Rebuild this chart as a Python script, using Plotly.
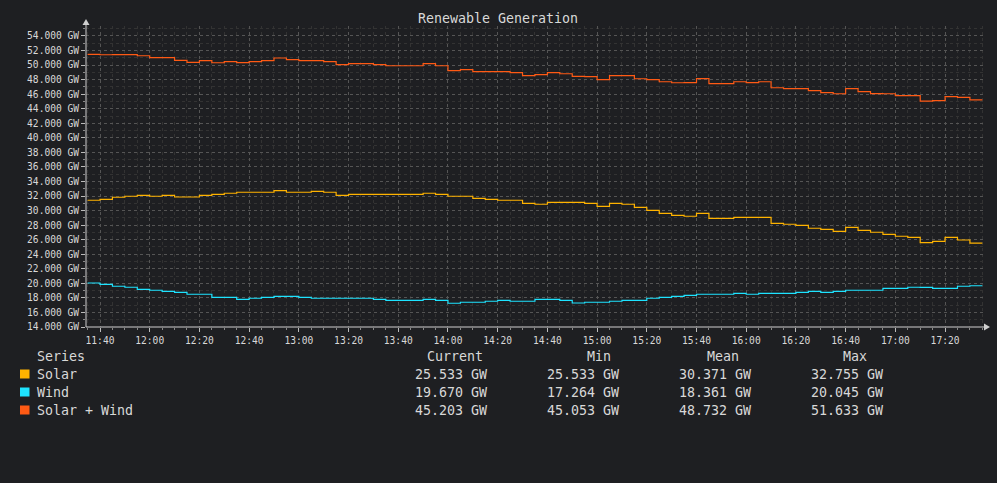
import pandas as pd
import plotly.graph_objects as go

# ---------------- data ----------------
start_time = "2024-01-01 11:35:00"
step = "5min"

solar = [31.42, 31.55, 31.83, 31.97, 32.10, 31.97, 32.10, 31.87, 31.87, 32.10,
         32.24, 32.38, 32.52, 32.52, 32.52, 32.755, 32.52, 32.52, 32.65, 32.52,
         32.10, 32.24, 32.24, 32.24, 32.24, 32.24, 32.24, 32.38, 32.24, 31.97,
         31.97, 31.69, 31.55, 31.42, 31.42, 31.00, 30.87, 31.14, 31.14, 31.14,
         31.00, 30.59, 31.00, 30.87, 30.45, 30.04, 29.63, 29.35, 29.22, 29.63,
         28.94, 28.94, 29.08, 29.08, 29.08, 28.25, 28.12, 27.98, 27.57, 27.43,
         27.15, 27.70, 27.29, 27.02, 26.74, 26.47, 26.33, 25.60, 25.78, 26.33,
         25.96, 25.533]

wind = [20.045, 19.87, 19.60, 19.46, 19.18, 19.05, 18.91, 18.77, 18.50, 18.50,
        18.08, 18.08, 17.81, 17.95, 18.08, 18.22, 18.22, 18.08, 17.95, 17.95,
        17.95, 17.95, 17.95, 17.81, 17.67, 17.67, 17.67, 17.81, 17.67, 17.264,
        17.40, 17.40, 17.54, 17.67, 17.54, 17.54, 17.81, 17.81, 17.67, 17.30,
        17.40, 17.40, 17.54, 17.67, 17.67, 17.95, 18.08, 18.22, 18.36, 18.50,
        18.50, 18.50, 18.63, 18.50, 18.63, 18.63, 18.63, 18.77, 18.91, 18.77,
        18.91, 19.05, 19.05, 19.05, 19.32, 19.32, 19.46, 19.45, 19.32, 19.32,
        19.60, 19.67]

series_names = ["Solar", "Wind", "Solar + Wind"]
series_colors = ["#FFB300", "#1EE3FF", "#FF5A14"]

legend_headers = ["Current", "Min", "Mean", "Max"]
legend_values = [
    ["25.533 GW", "25.533 GW", "30.371 GW", "32.755 GW"],
    ["19.670 GW", "17.264 GW", "18.361 GW", "20.045 GW"],
    ["45.203 GW", "45.053 GW", "48.732 GW", "51.633 GW"],
]

y_tick_values = list(range(14, 56, 2))
y_tick_labels = [f"{v:.3f} GW" for v in y_tick_values]

title_text = "Renewable Generation"

# ---------------- build ----------------
times = list(pd.date_range(start_time, periods=len(solar) + 1, freq=step))
total = [round(s + w, 3) for s, w in zip(solar, wind)]


def ext(vals):
    return list(vals) + [vals[-1]]


W, H = 997, 483
L, R, T, B = 86, 984, 26, 327
BG = "#1e1f22"
FG = "#d8d8d8"
MONO = "DejaVu Sans Mono"


def px(x):
    return (x - L) / (R - L)


def py(y):
    return (B - y) / (B - T)


fig = go.Figure()
for name, vals, col in zip(series_names, [solar, wind, total], series_colors):
    fig.add_trace(go.Scatter(x=times, y=ext(vals), mode="lines", name=name,
                             line=dict(color=col, width=1.2, shape="hv"),
                             showlegend=False, hoverinfo="skip"))

grid_major = "#555555"
grid_minor = "#333333"

fig.update_layout(
    width=W, height=H,
    margin=dict(l=L, r=W - R, t=T, b=H - B, pad=0),
    paper_bgcolor=BG, plot_bgcolor=BG,
    font=dict(family=MONO, color=FG, size=10),
    xaxis=dict(
        type="date",
        range=["2024-01-01 11:34:22", "2024-01-01 17:35:40"],
        tick0="2024-01-01 11:40:00", dtick=20 * 60 * 1000,
        tickformat="%H:%M",
        showgrid=True, gridcolor=grid_major, griddash="dot", gridwidth=1,
        ticks="outside", ticklen=4, tickcolor="#bbbbbb",
        tickfont=dict(family=MONO, size=9.6, color=FG),
        showline=False, zeroline=False,
        minor=dict(dtick=5 * 60 * 1000, showgrid=True, gridcolor=grid_minor,
                   griddash="dot", gridwidth=1, ticks="outside", ticklen=2,
                   tickcolor="#888888"),
        fixedrange=True,
    ),
    yaxis=dict(
        range=[14, 55.37],
        tickvals=y_tick_values, ticktext=y_tick_labels,
        showgrid=True, gridcolor=grid_major, griddash="dot", gridwidth=1,
        ticks="outside", ticklen=4, tickcolor="#bbbbbb",
        tickfont=dict(family=MONO, size=9.6, color=FG),
        showline=False, zeroline=False,
        minor=dict(dtick=1, showgrid=True, gridcolor=grid_minor,
                   griddash="dot", gridwidth=1, ticks="outside", ticklen=2,
                   tickcolor="#888888"),
        fixedrange=True,
    ),
)

shapes = []
axis_col = "#cfcfcf"
shapes.append(dict(type="line", xref="paper", yref="paper",
                   x0=px(L), x1=px(985), y0=py(B), y1=py(B),
                   line=dict(color=axis_col, width=1)))
shapes.append(dict(type="line", xref="paper", yref="paper",
                   x0=px(L), x1=px(L), y0=py(B), y1=py(23),
                   line=dict(color=axis_col, width=1)))
shapes.append(dict(type="path", xref="paper", yref="paper",
                   path=f"M {px(984)},{py(B-3.5)} L {px(990)},{py(B)} L {px(984)},{py(B+3.5)} Z",
                   fillcolor=axis_col, line=dict(color=axis_col, width=0)))
shapes.append(dict(type="path", xref="paper", yref="paper",
                   path=f"M {px(L-3.5)},{py(25)} L {px(L)},{py(19)} L {px(L+3.5)},{py(25)} Z",
                   fillcolor=axis_col, line=dict(color=axis_col, width=0)))

annotations = []
annotations.append(dict(text=title_text, xref="paper", yref="paper",
                        x=px(498), y=py(19), xanchor="center", yanchor="middle",
                        showarrow=False, font=dict(family=MONO, size=13.3, color=FG)))

LEG_FS = 13.3
row_y = [374, 392, 410]
header_y = 356
annotations.append(dict(text="Series", xref="paper", yref="paper",
                        x=px(35), y=py(header_y), xanchor="left", yanchor="middle",
                        showarrow=False, font=dict(family=MONO, size=LEG_FS, color=FG)))
header_right = [485, 613, 741, 869]
value_right = [489, 621, 753, 885]
for hdr, xr in zip(legend_headers, header_right):
    annotations.append(dict(text=hdr, xref="paper", yref="paper",
                            x=px(xr), y=py(header_y), xanchor="right", yanchor="middle",
                            showarrow=False, font=dict(family=MONO, size=LEG_FS, color=FG)))
for name, col, vals, yy in zip(series_names, series_colors, legend_values, row_y):
    shapes.append(dict(type="rect", xref="paper", yref="paper",
                       x0=px(20), x1=px(29.5), y0=py(yy - 4.5), y1=py(yy + 4.5),
                       fillcolor=col, line=dict(width=0)))
    annotations.append(dict(text=name, xref="paper", yref="paper",
                            x=px(35), y=py(yy), xanchor="left", yanchor="middle",
                            showarrow=False, font=dict(family=MONO, size=LEG_FS, color=FG)))
    for v, xr in zip(vals, value_right):
        annotations.append(dict(text=v, xref="paper", yref="paper",
                                x=px(xr), y=py(yy), xanchor="right", yanchor="middle",
                                showarrow=False, font=dict(family=MONO, size=LEG_FS, color=FG)))

fig.update_layout(shapes=shapes, annotations=annotations)
fig.write_html(
    "out.html",
    config={"displayModeBar": False, "staticPlot": True},
    post_script="document.body.style.margin='0';document.body.style.background='#1e1f22';",
)
